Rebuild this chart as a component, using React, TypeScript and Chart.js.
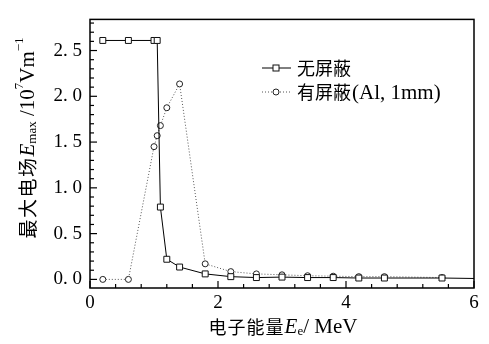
import React, { useEffect, useRef } from 'react';
import { Chart, registerables } from 'chart.js';

Chart.register(...registerables);

// ---- data ----
const energy = [0.2, 0.6, 1.0, 1.05, 1.1, 1.2, 1.4, 1.8, 2.2, 2.6, 3.0, 3.4, 3.8, 4.2, 4.6, 5.5];
const energyUnshielded = [...energy, 6.0];
const unshielded = [2.61, 2.61, 2.61, 2.61, 0.79, 0.22, 0.135, 0.06, 0.03, 0.02, 0.025, 0.02, 0.02, 0.015, 0.015, 0.015, 0.01];
const shielded = [0, 0, 1.45, 1.57, 1.68, 1.875, 2.135, 0.17, 0.085, 0.06, 0.05, 0.04, 0.035, 0.03, 0.03, 0.02];
const seriesLabels = ['无屏蔽', '有屏蔽'];
const shieldNote = '(Al, 1mm)';
const xTickValues = [0, 2, 4, 6];
const yTickValues = [0, 0.5, 1.0, 1.5, 2.0, 2.5];
const xTitleParts = ['电子能量', 'E', 'e', '/ MeV'];
const yTitleParts = ['最大电场', 'E', 'max', ' /10', '7', 'Vm', '−1'];

const SERIF = '"Liberation Serif", "DejaVu Serif", serif';
const CJK = '"Noto Sans CJK SC", sans-serif';

type Seg = { t: string; f: string; dy?: number; ls?: number };

function drawSegs(ctx: CanvasRenderingContext2D, segs: Seg[], cx: number, cy: number) {
  const c: any = ctx;
  let total = 0;
  for (const s of segs) {
    ctx.font = s.f;
    c.letterSpacing = `${s.ls || 0}px`;
    total += ctx.measureText(s.t).width;
  }
  let x = cx - total / 2;
  ctx.textBaseline = 'middle';
  ctx.textAlign = 'left';
  for (const s of segs) {
    ctx.font = s.f;
    c.letterSpacing = `${s.ls || 0}px`;
    ctx.fillText(s.t, x, cy + (s.dy || 0));
    x += ctx.measureText(s.t).width;
  }
  c.letterSpacing = '0px';
}

const framePlugin = {
  id: 'frameTicks',
  afterDraw(chart: any) {
    const ctx: CanvasRenderingContext2D = chart.ctx;
    const { left, right, top, bottom } = chart.chartArea;
    const xs = chart.scales.x;
    const ys = chart.scales.y;
    ctx.save();
    ctx.strokeStyle = '#000';
    ctx.lineWidth = 1.5;
    ctx.strokeRect(left, top, right - left, bottom - top);
    ctx.lineWidth = 1.2;
    // x ticks (inward), minor every 0.4, major every 2
    for (let i = 0; i <= 15; i++) {
      const v = i * 0.4;
      const px = xs.getPixelForValue(v);
      const major = i % 5 === 0;
      ctx.beginPath();
      ctx.moveTo(px, bottom);
      ctx.lineTo(px, bottom - (major ? 7 : 4));
      ctx.stroke();
    }
    // y ticks (inward), minor every 0.1, major every 0.5
    for (let i = 0; i <= 28; i++) {
      const v = i * 0.1;
      const py = ys.getPixelForValue(v);
      if (py < top) continue;
      const major = i % 5 === 0;
      ctx.beginPath();
      ctx.moveTo(left, py);
      ctx.lineTo(left + (major ? 7 : 4), py);
      ctx.stroke();
    }
    ctx.fillStyle = '#000';
    // x title
    drawSegs(ctx, [
      { t: xTitleParts[0], f: `18px ${CJK}`, ls: 1 },
      { t: xTitleParts[1], f: `italic 21px ${SERIF}` },
      { t: xTitleParts[2], f: `13px ${SERIF}`, dy: 5 },
      { t: xTitleParts[3], f: `21px ${SERIF}` },
    ], 283, 327);
    // y title (rotated)
    ctx.save();
    ctx.translate(28, 138);
    ctx.rotate(-Math.PI / 2);
    drawSegs(ctx, [
      { t: yTitleParts[0], f: `19px ${CJK}`, ls: 1.5 },
      { t: yTitleParts[1], f: `italic 21px ${SERIF}` },
      { t: yTitleParts[2], f: `13px ${SERIF}`, dy: 5 },
      { t: yTitleParts[3], f: `21px ${SERIF}` },
      { t: yTitleParts[4], f: `13px ${SERIF}`, dy: -8 },
      { t: yTitleParts[5], f: `21px ${SERIF}` },
      { t: yTitleParts[6], f: `13px ${SERIF}`, dy: -8 },
    ], 0, 0);
    ctx.restore();
    // legend
    const rows = [68, 92];
    chart.data.datasets.forEach((ds: any, i: number) => {
      const y = rows[i];
      ctx.save();
      ctx.strokeStyle = ds.borderColor;
      ctx.lineWidth = ds.borderWidth;
      ctx.setLineDash(ds.borderDash || []);
      ctx.beginPath();
      ctx.moveTo(262, y);
      ctx.lineTo(291, y);
      ctx.stroke();
      ctx.setLineDash([]);
      ctx.fillStyle = '#fff';
      ctx.strokeStyle = ds.pointBorderColor;
      ctx.lineWidth = 1;
      if (ds.pointStyle === 'rect') {
        ctx.fillRect(273, y - 3, 6, 6);
        ctx.strokeRect(273, y - 3, 6, 6);
      } else {
        ctx.beginPath();
        ctx.arc(276, y, 3, 0, Math.PI * 2);
        ctx.fill();
        ctx.stroke();
      }
      ctx.restore();
      ctx.fillStyle = '#000';
      ctx.font = `18px ${CJK}`;
      ctx.textBaseline = 'middle';
      ctx.textAlign = 'left';
      ctx.fillText(ds.label, 297, y);
      if (i === 1) {
        const w = ctx.measureText(ds.label).width;
        ctx.font = `21px ${SERIF}`;
        ctx.fillText(shieldNote, 298 + w, y + 1);
      }
    });
    ctx.restore();
  },
};

export default function App() {
  const ref = useRef<HTMLCanvasElement | null>(null);
  useEffect(() => {
    if (!ref.current) return;
    const chart = new Chart(ref.current, {
      type: 'scatter',
      data: {
        datasets: [
          {
            label: seriesLabels[0],
            data: energyUnshielded.map((x, i) => ({ x, y: unshielded[i] })),
            showLine: true,
            borderColor: '#000',
            borderWidth: 1,
            pointStyle: 'rect',
            pointRadius: energyUnshielded.map((x) => (x >= 6 ? 0 : 4.2)),
            pointBackgroundColor: '#fff',
            pointBorderColor: '#111',
            pointBorderWidth: 1,
          } as any,
          {
            label: seriesLabels[1],
            data: energy.map((x, i) => ({ x, y: shielded[i] })),
            showLine: true,
            borderColor: '#555',
            borderWidth: 1,
            borderDash: [1, 2],
            pointStyle: 'circle',
            pointRadius: 3,
            pointBackgroundColor: '#fff',
            pointBorderColor: '#222',
            pointBorderWidth: 1,
          } as any,
        ],
      },
      options: {
        responsive: false,
        animation: false,
        devicePixelRatio: 1,
        layout: { padding: { left: 0, right: 15, top: 7, bottom: 0 } },
        plugins: { legend: { display: false }, tooltip: { enabled: false } },
        scales: {
          x: {
            type: 'linear',
            min: 0,
            max: 6,
            grid: { display: false, drawTicks: false },
            border: { display: false },
            afterFit: (s: any) => { s.height = 56; },
            afterBuildTicks: (s: any) => { s.ticks = xTickValues.map((v) => ({ value: v })); },
            ticks: {
              padding: 4,
              color: '#000',
              font: { family: SERIF, size: 19 },
              maxRotation: 0,
              callback: (v: any) => String(v),
            },
          },
          y: {
            type: 'linear',
            min: -0.094,
            max: 2.84,
            grid: { display: false, drawTicks: false },
            border: { display: false },
            afterFit: (s: any) => { s.width = 90; },
            afterBuildTicks: (s: any) => { s.ticks = yTickValues.map((v) => ({ value: v })); },
            ticks: {
              padding: 8,
              color: '#000',
              font: { family: SERIF, size: 19 },
              callback: (v: any) => Number(v).toFixed(1).replace('.', '. '),
            },
          },
        },
      },
      plugins: [framePlugin],
    });
    return () => chart.destroy();
  }, []);
  return (
    <div style={{ position: 'fixed', left: 0, top: 0, width: 489, height: 344, background: '#fff' }}>
      <canvas ref={ref} width={489} height={344} style={{ display: 'block', width: 489, height: 344 }} />
    </div>
  );
}
